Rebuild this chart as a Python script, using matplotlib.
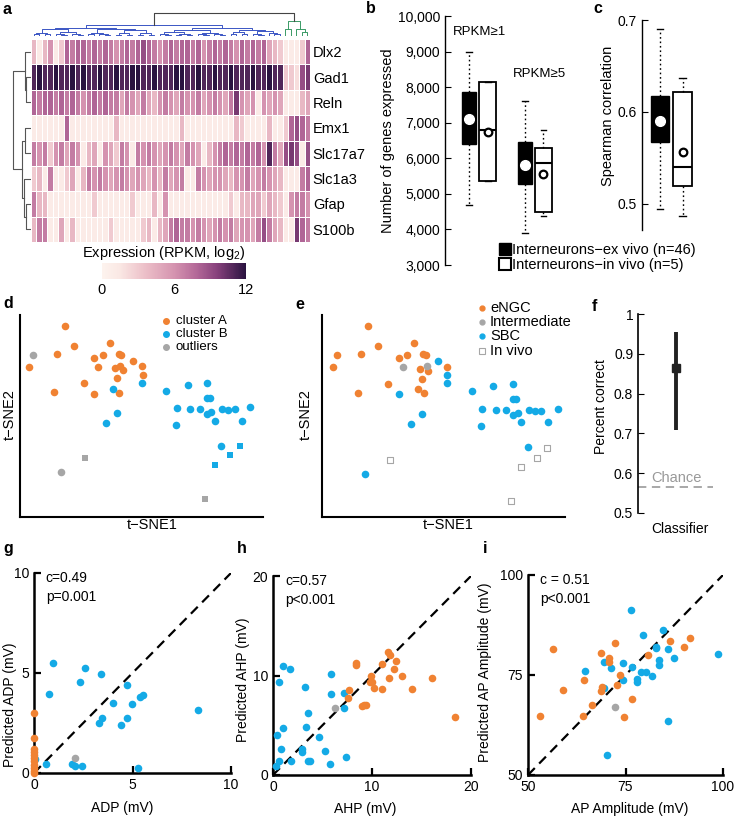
import numpy as np
import matplotlib
matplotlib.use("Agg")
import matplotlib.pyplot as plt
from matplotlib.colors import LinearSegmentedColormap, Normalize
from matplotlib.cm import ScalarMappable
from matplotlib.lines import Line2D

plt.rcParams['font.family'] = ['Liberation Sans', 'DejaVu Sans']
plt.rcParams['font.size'] = 10
plt.rcParams['lines.scale_dashes'] = False
plt.rcParams['mathtext.fontset'] = 'custom'
plt.rcParams['mathtext.rm'] = 'Liberation Sans'
plt.rcParams['mathtext.default'] = 'regular'

ORANGE = '#f08232'
BLUE = '#14aae6'
GRAY = '#a6a6a6'

#---------------------------------------------------------------------------
#                               DATA
#---------------------------------------------------------------------------

# a - heatmap, 46 ex vivo cells + 5 in vivo cells (RPKM, log2)
genes = ['Dlx2', 'Gad1', 'Reln', 'Emx1', 'Slc17a7', 'Slc1a3', 'Gfap', 'S100b']
dlx2 = [4,1,4,6,1,3,8,7,8,8, 7,8,7,8,7,6,7,8,7,8, 9,8,7,6,7,8,7,8,8,7, 8,6,7,8,7,8,7,6,8,7, 8,7,8,5,4,3, 1,1,1,3,8]
gad1 = [11,12,11,11,12,11,11,12,11,12, 11,11,12,11,11,12,11,11,12,12, 11,11,12,11,11,11,12,12,11,11, 12,11,11,12,11,11,12,11,11,11, 12,11,11,12,11,11, 3,3,2,9,10]
reln = [8,7,8,8,7,8,7,8,7,6, 7,8,7,8,7,7,5,7,6,5, 7,5,4,6,7,6,5,7,6,6, 7,5,6,7,6,5,7,10,6,5, 6,1,6,5,6,5, 1,1,1,4,5]
emx1 = [1,1,1,1,1,1,8,1,1,1, 1,1,1,1,1,4,1,1,1,1, 1,1,1,1,1,1,1,4,1,1, 1,1,1,1,1,1,1,4,3,1, 1,1,1,4,1,1, 3,8,9,8,7]
slc17a7 = [7,6,7,3,6,7,5,7,6,1, 4,5,1,6,5,3,7,6,1,7, 6,7,6,5,6,7,6,5,7,6, 5,1,4,6,7,8,7,8,7,8, 7,8,6,11,7,5, 9,10,9,1,9]
slc1a3 = [3,4,1,7,1,1,3,5,1,4, 7,6,7,6,5,6,7,6,5,6, 5,4,6,4,7,5,6,7,1,1, 7,6,5,6,6,5,4,6,6,7, 5,6,7,6,5,4, 1,1,1,7,8]
gfap = [7,4,4,1,1,1,1,1,1,1, 1,3,1,1,1,1,1,1,3,1, 1,1,4,1,6,1,1,1,1,1, 1,1,1,1,1,1,3,1,4,4, 5,5,3,5,4,3, 1,6,7,7,6]
s100b = [4,7,7,1,1,5,1,4,1,1, 1,1,1,1,3,1,1,1,1,1, 3,4,1,4,5,7,8,7,7,6, 7,6,5,6,7,6,7,5,6,6, 5,7,9,7,5,4, 1,1,10,8,7]

# row dendrogram: (node, node, height), new nodes numbered from 8
row_merges = [(1, 2, 4), (0, 8, 5), (6, 7, 4), (5, 10, 5.5), (3, 4, 5), (12, 11, 8), (9, 13, 15)]
# column dendrogram groups
col_groups = [4, 6, 5, 8, 7, 6, 4, 3, 3]
col_group_top = [3, 4, 3, 5, 4, 3, 4, 2, 3]
vivo_cells = 5
blue_top, green_top, root_top = 10, 13, 21

# b - number of genes expressed
b_labels = ['RPKM\u22651', 'RPKM\u22655']
b_ex = [dict(q1=6400, med=7100, q3=7850, whislo=4700, whishi=9000, mean=7100),
        dict(q1=5280, med=5820, q3=6450, whislo=3900, whishi=7600, mean=5820)]
b_in = [dict(q1=5350, med=6800, q3=8150, whislo=5350, whishi=8150, mean=6750),
        dict(q1=4500, med=5870, q3=6280, whislo=4380, whishi=6800, mean=5560)]

# c - spearman correlation
c_ex = [dict(q1=0.567, med=0.59, q3=0.617, whislo=0.495, whishi=0.69, mean=0.59)]
c_in = [dict(q1=0.52, med=0.54, q3=0.622, whislo=0.487, whishi=0.637, mean=0.557)]

# d - t-SNE clusters
d_a_x = [45,37,9,54,34,64,74,83,90,99,101,78,74,95,100,103,97,99,113,122,123]
d_a_y = [191,163,150,171,125,134,159,162,174,163,162,150,123,149,151,147,139,124,156,151,142]
d_b_x = [93,97,86,122,146,168,187,187,190,157,170,180,187,191,195,202,208,215,230,222,156,201]
d_b_y = [128,104,94,134,126,132,134,119,119,109,108,108,103,105,96,108,107,108,110,96,92,71]
d_bsq_x = [220, 210, 195]
d_bsq_y = [71, 62, 52]
d_out_x = [13, 41]
d_out_y = [162, 45]
d_outsq_x = [65, 185]
d_outsq_y = [59, 18]

# e - t-SNE cell types
e_engc_x = [46,15,11,39,56,36,66,77,85,92,101,104,98,106,100,96,102,125]
e_engc_y = [191,162,150,163,171,124,133,159,162,174,163,162,148,146,138,128,124,150]
e_int_x = [81, 105]
e_int_y = [150, 151]
e_sbc_x = [116,125,125,77,100,89,43,150,171,191,191,194,160,174,184,191,196,199,207,213,219,236,226,159,206]
e_sbc_y = [156,142,134,123,103,93,43,126,131,133,118,118,108,107,107,102,104,95,107,106,106,108,95,91,70]
e_vivo_x = [68, 225, 215, 199, 189]
e_vivo_y = [57, 69, 59, 50, 16]

# f - classifier
f_mean, f_lo, f_hi = 0.864, 0.709, 0.955
f_chance = 0.566

# g - ADP
g_blue_x = [0.97,2.58,3.39,2.36,4.73,0.76,4.02,4.97,5.37,5.54,8.31,3.47,3.29,4.73,4.42,0.63,1.95,2.07,2.44,5.29,0.03]
g_blue_y = [5.48,5.23,4.93,4.53,4.40,3.94,3.52,3.46,3.82,3.90,3.14,2.76,2.51,2.76,2.38,0.43,0.43,0.35,0.35,0.27,0.71]
g_orange_x = [0,0,0,0,0,0,0,0,0,0,0]
g_orange_y = [2.99,1.74,1.20,1.05,0.90,0.75,0.58,0.42,0.25,0.10,0.0]
g_gray_x, g_gray_y = [2.07], [0.73]

# h - AHP
h_blue_x = [1.01,1.69,0.57,5.90,3.24,5.90,7.18,7.15,3.54,1.01,3.37,0.40,4.62,0.84,2.90,2.90,5.26,7.35,0.61,0.27,1.79,3.54,3.74,5.73]
h_blue_y = [10.94,10.64,9.36,10.17,8.80,8.13,8.29,6.72,6.25,4.68,4.85,4.05,3.78,2.64,2.64,2.31,2.37,1.84,1.44,0.94,1.44,1.40,1.40,1.10]
h_orange_x = [8.40,8.36,11.64,11.77,12.41,11.0,9.85,9.78,10.05,12.21,11.74,13.02,16.02,10.19,10.96,14.0,7.69,7.62,9.17,9.44,9.0,18.38]
h_orange_y = [11.04,11.30,12.37,12.11,11.47,11.14,10.0,9.36,9.36,10.67,9.73,9.90,9.73,8.76,8.63,8.63,8.56,7.73,6.99,7.06,6.92,5.82]
h_gray_x, h_gray_y = [6.24], [6.72]

# i - AP amplitude
i_blue_x = [76.4,84.7,79.6,82.7,82.9,86.0,98.6,87.5,83.6,83.6,69.5,74.3,64.5,71.2,76.7,79.1,80.2,81.9,77.9,77.9,74.3,69.5,86.0,70.2]
i_blue_y = [91.25,86.2,85.0,81.7,81.9,81.5,80.3,79.2,78.8,77.4,78.3,77.9,76.1,76.8,77.1,75.7,75.7,74.8,74.1,73.2,73.7,71.8,63.6,55.0]
i_orange_x = [91.5,86.5,72.3,56.4,68.7,90.1,80.7,70.8,70.8,64.4,73.6,59.1,69.1,68.7,72.7,66.4,76.7,53.2,64.1,74.7]
i_orange_y = [84.25,83.4,83.1,81.5,80.4,81.9,79.9,79.2,78.3,73.7,74.9,71.3,72.1,71.0,72.5,67.4,69.0,64.75,64.75,64.4]
i_gray_x, i_gray_y = [72.3], [67.1]

#---------------------------------------------------------------------------
#                               FIGURE
#---------------------------------------------------------------------------

W, H = 734, 817
fig = plt.figure(figsize=(W / 100, H / 100), dpi=100)


def px_axes(l, t, r, b):
    return fig.add_axes([l / W, 1 - b / H, (r - l) / W, (b - t) / H])


def keep_spines(ax, keep, lw=1.0):
    for s in ax.spines:
        ax.spines[s].set_visible(s in keep)
        ax.spines[s].set_linewidth(lw)


def letter(x, y, s):
    fig.text(x / W, 1 - y / H, s, fontsize=11.5, fontweight='bold', va='top', ha='left')


# ---------------- a: heatmap ----------------
expr = np.array([dlx2, gad1, reln, emx1, slc17a7, slc1a3, gfap, s100b])
cmap = LinearSegmentedColormap.from_list('rpkm', [(0, '#fdf3ee'), (0.12, '#fae8e4'), (0.3, '#ecbfc8'),
                                                  (0.5, '#d594b0'), (0.65, '#b56a99'), (0.8, '#87417c'),
                                                  (1.0, '#2a1340')])
ax = px_axes(31, 39, 310, 242)
ax.pcolormesh(expr, cmap=cmap, vmin=0, vmax=12, edgecolors='white', linewidth=0.6)
ax.set_xlim(0, expr.shape[1])
ax.set_ylim(len(genes), 0)
ax.set_xticks([])
ax.set_yticks(np.arange(len(genes)) + 0.5)
ax.set_yticklabels(genes, fontsize=10.5)
ax.yaxis.tick_right()
ax.tick_params(axis='y', length=0, pad=2)
keep_spines(ax, [])

# row dendrogram
ax = px_axes(12, 39, 31, 242)
n = len(genes)
pos = {i: i + 0.5 for i in range(n)}
hgt = {i: 0 for i in range(n)}
for k, (p, q, h) in enumerate(row_merges):
    ax.plot([hgt[p], h, h, hgt[q]], [pos[p], pos[p], pos[q], pos[q]], color='#555555', lw=0.8)
    pos[n + k] = (pos[p] + pos[q]) / 2
    hgt[n + k] = h
ax.set_ylim(n, 0)
ax.set_xlim(16, 0)
ax.axis('off')

# column dendrogram
ax = px_axes(31, 12, 310, 36)


def join(nodes, top, color):
    # nodes: list of (x, h); joins them pairwise up to height top
    if len(nodes) == 1:
        return nodes[0]
    mid = len(nodes) // 2
    inner = (top + max(h for _, h in nodes)) / 2
    xl, hl = join(nodes[:mid], inner, color)
    xr, hr = join(nodes[mid:], inner, color)
    ax.plot([xl, xl, xr, xr], [hl, top, top, hr], color=color, lw=0.7)
    return (xl + xr) / 2, top


start = 0
blue_nodes = []
for size, top in zip(col_groups, col_group_top):
    leaves = [(start + j + 0.5, 0) for j in range(size)]
    blue_nodes.append(join(leaves, top, '#3a55c4'))
    start += size
bx, bh = join(blue_nodes, blue_top, '#3a55c4')
green_leaves = [(start + j + 0.5, 0) for j in range(vivo_cells)]
gx, gh = join(green_leaves, green_top, '#3a9a66')
ax.plot([bx, bx, gx, gx], [bh, root_top, root_top, gh], color='#444444', lw=0.8)
ax.set_xlim(0, expr.shape[1])
ax.set_ylim(0, root_top + 0.5)
ax.axis('off')

# colorbar
cax = px_axes(102, 263, 246, 279)
cb = fig.colorbar(ScalarMappable(Normalize(0, 12), cmap), cax=cax, orientation='horizontal', ticks=[0, 6, 12])
cb.outline.set_visible(False)
cax.tick_params(length=0, pad=3, labelsize=10.5)
fig.text(164 / W, 1 - 253 / H, 'Expression (RPKM, log$_2$)', ha='center', va='center', fontsize=10.5)

# ---------------- b: genes expressed ----------------
ex_style = dict(patch_artist=True, showmeans=True, showfliers=False,
                boxprops=dict(facecolor='black', edgecolor='black', linewidth=1),
                medianprops=dict(color='black', linewidth=1),
                whiskerprops=dict(color='black', linestyle=(0, (1.2, 2)), linewidth=1),
                capprops=dict(color='black', linewidth=1),
                meanprops=dict(marker='o', markerfacecolor='white', markeredgecolor='white', markersize=7))
in_style = dict(patch_artist=True, showmeans=True, showfliers=False,
                boxprops=dict(facecolor='white', edgecolor='black', linewidth=1.3),
                medianprops=dict(color='black', linewidth=1.5),
                whiskerprops=dict(color='black', linestyle=(0, (1.2, 2)), linewidth=1),
                capprops=dict(color='black', linewidth=1),
                meanprops=dict(marker='o', markerfacecolor='white', markeredgecolor='black',
                               markersize=5.5, markeredgewidth=1.6))

ax = px_axes(445, 16, 575, 265)
ax.bxp([dict(s, fliers=[]) for s in b_ex], positions=[1, 4], widths=0.78, capwidths=0.3, **ex_style)
ax.bxp([dict(s, fliers=[]) for s in b_in], positions=[2, 5], widths=0.9, capwidths=0.3, **in_style)
ax.set_xlim(-0.3, 6.7)
ax.set_ylim(3000, 10000)
ticks = list(range(3000, 10001, 1000))
ax.set_yticks(ticks)
ax.set_yticklabels([f'{t:,}' for t in ticks])
ax.set_xticks([])
ax.tick_params(axis='y', direction='in', length=4, labelsize=10)
keep_spines(ax, ['left'])
ax.set_ylabel('Number of genes expressed', fontsize=10.5)
ax.yaxis.set_label_coords(-0.385, 0.5)
ax.text(0.12, 9550, b_labels[0], fontsize=9.5, va='center')
ax.text(3.38, 8370, b_labels[1], fontsize=9.5, va='center')

# ---------------- c: spearman correlation ----------------
ax = px_axes(642, 20, 705, 230)
ax.bxp([dict(s, fliers=[]) for s in c_ex], positions=[1], widths=0.8, capwidths=0.3, **ex_style)
ax.bxp([dict(s, fliers=[]) for s in c_in], positions=[2], widths=0.85, capwidths=0.3, **in_style)
ax.set_xlim(0.2, 3.0)
ax.set_ylim(0.4717, 0.7)
ax.set_yticks([0.5, 0.6, 0.7])
ax.set_xticks([])
ax.tick_params(axis='y', direction='in', length=4, labelsize=10)
keep_spines(ax, ['left'])
ax.set_ylabel('Spearman correlation', fontsize=10.5)
ax.yaxis.set_label_coords(-0.43, 0.543)

handles = [Line2D([0], [0], marker='s', ls='', mfc='black', mec='black', ms=8),
           Line2D([0], [0], marker='s', ls='', mfc='white', mec='black', mew=1.5, ms=8)]
fig.legend(handles, ['Interneurons\u2212ex vivo (n=46)', 'Interneurons\u2212in vivo (n=5)'],
           loc='upper left', bbox_to_anchor=(500 / W, 1 - 243 / H), frameon=False,
           handlelength=0.7, handletextpad=0.15, labelspacing=0.05, borderpad=0, borderaxespad=0,
           fontsize=10.5)

# ---------------- d: t-SNE clusters ----------------
ax = px_axes(20, 315, 263, 517)
ax.scatter(d_a_x, d_a_y, s=30, color=ORANGE, lw=0)
ax.scatter(d_b_x, d_b_y, s=30, color=BLUE, lw=0)
ax.scatter(d_bsq_x, d_bsq_y, s=22, marker='s', color=BLUE, lw=0)
ax.scatter(d_out_x, d_out_y, s=30, color=GRAY, lw=0)
ax.scatter(d_outsq_x, d_outsq_y, s=22, marker='s', color=GRAY, lw=0)
ax.set_xlim(0, 243)
ax.set_ylim(0, 202)
ax.set_xticks([])
ax.set_yticks([])
keep_spines(ax, ['left', 'bottom'], 1.5)
ax.set_xlabel('t\u2212SNE1', fontsize=10.5)
ax.xaxis.set_label_coords(0.543, -0.005)
ax.set_ylabel('t\u2212SNE2', fontsize=10.5)
ax.yaxis.set_label_coords(-0.012, 0.505)
for yy, col, lab in zip([196, 183, 170], [ORANGE, BLUE, GRAY], ['cluster A', 'cluster B', 'outliers']):
    ax.plot([146], [yy], marker='o', ms=4, color=col, clip_on=False)
    ax.text(156, yy, lab, fontsize=9.5, va='center')

# ---------------- e: t-SNE cell types ----------------
ax = px_axes(322, 315, 565, 517)
ax.scatter(e_engc_x, e_engc_y, s=30, color=ORANGE, lw=0)
ax.scatter(e_int_x, e_int_y, s=30, color=GRAY, lw=0)
ax.scatter(e_sbc_x, e_sbc_y, s=30, color=BLUE, lw=0)
ax.scatter(e_vivo_x, e_vivo_y, s=20, marker='s', facecolor='white', edgecolor=GRAY, lw=0.8)
ax.set_xlim(0, 243)
ax.set_ylim(0, 202)
ax.set_xticks([])
ax.set_yticks([])
keep_spines(ax, ['left', 'bottom'], 1.5)
ax.set_xlabel('t\u2212SNE1', fontsize=10.5)
ax.xaxis.set_label_coords(0.52, -0.005)
ax.set_ylabel('t\u2212SNE2', fontsize=10.5)
ax.yaxis.set_label_coords(-0.037, 0.505)
for yy, col, lab in zip([209, 195, 181], [ORANGE, GRAY, BLUE], ['eNGC', 'Intermediate', 'SBC']):
    ax.plot([160], [yy], marker='o', ms=3.5, color=col, clip_on=False)
    ax.text(168, yy, lab, fontsize=10.5, va='center')
ax.plot([160], [166], marker='s', ms=4, mfc='white', mec=GRAY, mew=0.8, clip_on=False)
ax.text(168, 166, 'In vivo', fontsize=10.5, va='center')

# ---------------- f: classifier ----------------
ax = px_axes(638, 314, 713, 513)
ax.axhline(f_chance, color='#999999', ls='--', dashes=(6, 4), lw=1.2)
ax.text(0.35, f_chance + 0.004, 'Chance', color='#999999', fontsize=10.5, va='bottom')
ax.errorbar([1], [f_mean], yerr=[[f_mean - f_lo], [f_hi - f_mean]], fmt='s', color='#222222',
            ms=6, elinewidth=2.8, capsize=0)
ax.set_xlim(0, 2)
ax.set_ylim(0.5, 1)
ax.set_yticks([0.5, 0.6, 0.7, 0.8, 0.9, 1.0])
ax.set_yticklabels(['0.5', '0.6', '0.7', '0.8', '0.9', '1'])
ax.set_xticks([])
ax.tick_params(axis='y', direction='in', length=4, labelsize=10)
keep_spines(ax, ['left'], 1.2)
ax.set_ylabel('Percent correct', fontsize=10)
ax.yaxis.set_label_coords(-0.4, 0.533)
ax.set_xlabel('Classifier', fontsize=10)
ax.xaxis.set_label_coords(0.56, -0.045)

# ---------------- g, h, i: predictions ----------------


def pred_panel(box, lim, ticks, bx, by, ox, oy, gx, gy, text, xlab, ylab, xl, yl):
    ax = px_axes(*box)
    ax.plot(lim, lim, color='black', dashes=(7, 4.5), lw=1.6, zorder=1)
    ax.scatter(bx, by, s=30, color=BLUE, lw=0, clip_on=False, zorder=3)
    ax.scatter(ox, oy, s=30, color=ORANGE, lw=0, clip_on=False, zorder=3)
    ax.scatter(gx, gy, s=30, color=GRAY, lw=0, clip_on=False, zorder=3)
    ax.set_xlim(lim)
    ax.set_ylim(lim)
    ax.set_xticks(ticks)
    ax.set_yticks(ticks)
    ax.tick_params(direction='in', length=5, width=1.6, labelsize=10)
    keep_spines(ax, ['left', 'bottom'], 1.8)
    ax.text(0.06, 1.01, text, transform=ax.transAxes, va='top', fontsize=10, linespacing=1.45)
    ax.set_xlabel(xlab, fontsize=10)
    ax.xaxis.set_label_coords(*xl)
    ax.set_ylabel(ylab, fontsize=10)
    ax.yaxis.set_label_coords(*yl)
    return ax


pred_panel((34, 573, 231, 773), [0, 10], [0, 5, 10], g_blue_x, g_blue_y, g_orange_x, g_orange_y,
           g_gray_x, g_gray_y, 'c=0.49\np=0.001', 'ADP (mV)', 'Predicted ADP (mV)',
           (0.45, -0.14), (-0.088, 0.34))
pred_panel((273, 576, 471, 775), [0, 20], [0, 10, 20], h_blue_x, h_blue_y, h_orange_x, h_orange_y,
           h_gray_x, h_gray_y, 'c=0.57\np<0.001', 'AHP (mV)', 'Predicted AHP (mV)',
           (0.465, -0.136), (-0.116, 0.477))
pred_panel((528, 575, 723, 775), [50, 100], [50, 75, 100], i_blue_x, i_blue_y, i_orange_x, i_orange_y,
           i_gray_x, i_gray_y, 'c = 0.51\np<0.001', 'AP Amplitude (mV)', 'Predicted AP Amplitude (mV)',
           (0.523, -0.135), (-0.185, 0.515))

letter(3, 2, 'a')
letter(366, 1, 'b')
letter(593, 1, 'c')
letter(3, 296, 'd')
letter(295, 297, 'e')
letter(592, 299, 'f')
letter(3, 541, 'g')
letter(237, 541, 'h')
letter(483, 541, 'i')

fig.savefig('out.png', dpi=100)
